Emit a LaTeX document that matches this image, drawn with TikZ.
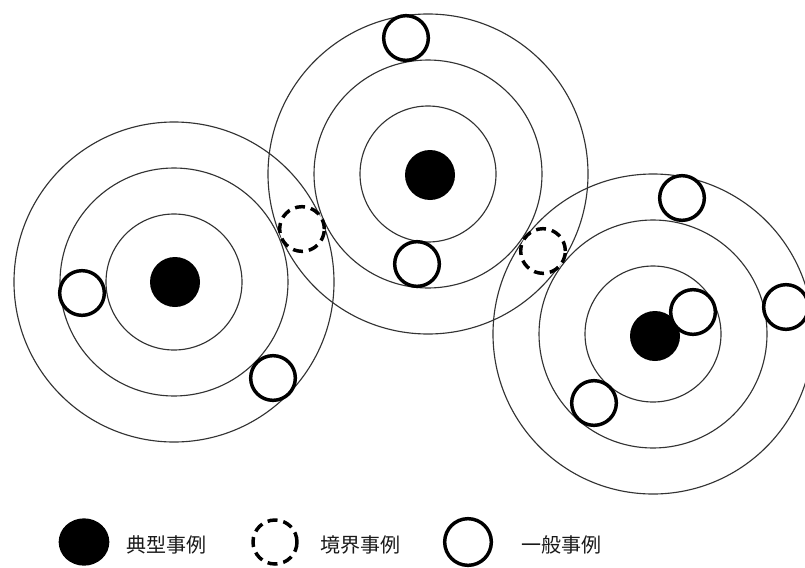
\documentclass[tikz,border=0pt]{standalone}
\usepackage{fontspec}
\newfontfamily\jp{Noto Sans CJK JP}
\usetikzlibrary{shapes.geometric}
\tikzset{
  ring/.style={draw=black!80, line width=0.85pt},
  typical/.style={circle, fill=black, inner sep=0pt, minimum size=37.5pt},
  general/.style={circle, draw=black, line width=2.6pt, fill=white, inner sep=0pt, minimum size=33.5pt},
  border/.style={general, dash pattern=on 7.5pt off 4.5pt},
  legtext/.style={anchor=west, inner sep=0pt, font=\jp\fontsize{15pt}{18pt}\selectfont, text=black!90}
}
\begin{document}
\begin{tikzpicture}[x=0.75pt, y=-0.75pt]
\useasboundingbox (0,0) rectangle (805,567);
\clip (0,0) rectangle (805,567);
% cluster centres
\coordinate (cL) at (174,282);
\coordinate (cT) at (428,174);
\coordinate (cR) at (653,334);
% rings
\foreach \c in {cL,cT,cR}{
  \draw[ring] (\c) circle[radius=120pt];
  \draw[ring] (\c) circle[radius=85.5pt];
  \draw[ring] (\c) circle[radius=51pt];
}
% typical cases
\node[typical] (tL) at (175,282) {};
\node[typical] (tT) at (430,175) {};
\node[typical] (tR) at (655,336) {};
% general cases
\node[general] (gL1) at (82,293) {};
\node[general] (gL2) at (273,378) {};
\node[general] (gT1) at (406,38) {};
\node[general] (gT2) at (417,264) {};
\node[general] (gR1) at (682,198) {};
\node[general] (gR2) at (786,307) {};
\node[general] (gR3) at (693,312) {};
\node[general] (gR4) at (594,403) {};
% border cases
\node[border] (b1) at (302,229) {};
\node[border] (b2) at (543,251) {};
% legend
\node[ellipse, fill=black, inner sep=0pt, minimum width=38pt, minimum height=35.5pt] (lg1) at (84,542) {};
\node[legtext] (lt1) at (126,545) {典型事例};
\node[border, minimum size=33pt] (lg2) at (275,542) {};
\node[legtext] (lt2) at (320,545) {境界事例};
\node[general, minimum size=35pt] (lg3) at (468,542) {};
\node[legtext] (lt3) at (521,545) {一般事例};
\end{tikzpicture}
\end{document}
